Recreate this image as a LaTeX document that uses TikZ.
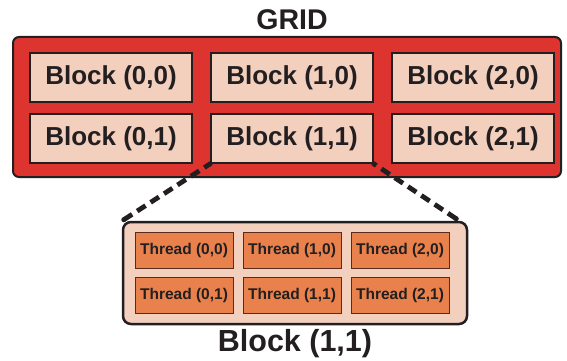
\documentclass[tikz,border=0pt]{standalone}
\usepackage{fontspec}
\setmainfont{Liberation Sans}
\definecolor{gridred}{HTML}{DD3430}
\definecolor{peach}{HTML}{F3CFBE}
\definecolor{threadorange}{HTML}{E8814B}
\definecolor{ink}{HTML}{231F20}
\definecolor{threadedge}{HTML}{5A2A1C}
\begin{document}
\begin{tikzpicture}[x=1pt,y=-1pt,
  gridbox/.style={draw=ink,fill=gridred,line width=2pt,rounded corners=6pt,
    minimum width=548pt,minimum height=140pt,inner sep=0pt},
  blockbox/.style={draw=ink,fill=peach,line width=1.5pt,
    minimum width=162pt,minimum height=49pt,inner sep=0pt,
    font=\fontsize{26}{30}\selectfont\bfseries,text=ink},
  blockpanel/.style={draw=ink,fill=peach,line width=2.5pt,rounded corners=8pt,
    minimum width=344pt,minimum height=102pt,inner sep=0pt},
  threadbox/.style={draw=threadedge,fill=threadorange,line width=1pt,
    minimum width=98pt,minimum height=36pt,inner sep=0pt,
    font=\fontsize{15.5}{18}\selectfont\bfseries,text=ink},
  title/.style={font=\fontsize{28.5}{32}\selectfont\bfseries,text=ink,inner sep=0pt},
  zoomline/.style={draw=ink,line width=4.8pt,dash pattern=on 10pt off 6pt},
  joint/.style={fill=ink}
]
\useasboundingbox (0,0) rectangle (567,361);

% grid of blocks
\node[title] (gridlabel) at (292,20) {GRID};
\node[gridbox] (grid) at (287,107) {};
\foreach \c/\x in {0/111,1/292,2/473}{
  \foreach \r/\y in {0/77.5,1/138.5}{
    \node[blockbox] (b\c\r) at (\x,\y) {Block (\c,\r)};
  }
}

% block (1,1) opened up into its threads
\node[blockpanel] (panel) at (295,273) {};
\foreach \c/\x in {0/184,1/292,2/400}{
  \foreach \r/\y in {0/250,1/295}{
    \node[threadbox] (t\c\r) at (\x,\y) {Thread (\c,\r)};
  }
}
\node[title,font=\fontsize{30.5}{34}\selectfont\bfseries] (panellabel) at (295,344) {Block (1,1)};

% zoom lines from the block to its panel
\coordinate (zl) at ([xshift=2pt,yshift=1pt]panel.north west);
\coordinate (zr) at ([xshift=-12pt,yshift=2pt]panel.north east);
\draw[zoomline] (zl) -- (b11.south west);
\draw[zoomline] (zr) -- (b11.south east);
\foreach \p in {zl,zr,b11.south west,b11.south east}
  \fill[joint] (\p) circle (2.5pt);
\end{tikzpicture}
\end{document}
